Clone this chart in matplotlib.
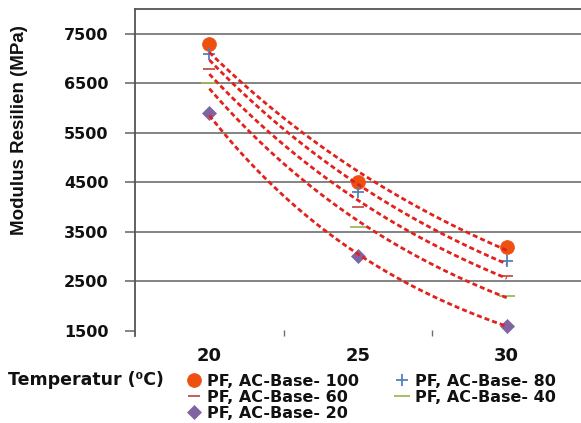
import matplotlib.pyplot as plt
import numpy as np

# Temperatur uji dan modulus resilien tiap campuran
suhu = [20, 25, 30]
ac_base_100 = [7300, 4500, 3200]
ac_base_80 = [7100, 4300, 2900]
ac_base_60 = [6800, 4000, 2600]
ac_base_40 = [6500, 3600, 2200]
ac_base_20 = [5900, 3000, 1600]

labels = ["PF, AC-Base- 100", "PF, AC-Base- 80", "PF, AC-Base- 60",
          "PF, AC-Base- 40", "PF, AC-Base- 20"]
series = [ac_base_100, ac_base_80, ac_base_60, ac_base_40, ac_base_20]
markers = ["o", "+", "_", "_", "D"]
colors = ["#EE5012", "#4F81BD", "#C0504D", "#9BBB59", "#8064A2"]
sizes = [10, 9, 9, 11, 7]

yticks = [1500, 2500, 3500, 4500, 5500, 6500, 7500]

fig = plt.figure(figsize=(5.81, 4.23), dpi=100)
ax = fig.add_axes([0.2324, 0.2057, 0.7676, 0.7725])

x = np.arange(len(suhu))
handles = []
for ys, lab, m, c, s in zip(series, labels, markers, colors, sizes):
    h, = ax.plot(x, ys, linestyle="none", marker=m, color=c, markersize=s,
                 markeredgewidth=1.3 if m in "+_" else 0.5, label=lab, zorder=3)
    handles.append(h)
    # garis tren eksponensial
    b, a = np.polyfit(suhu, np.log(ys), 1)
    xs = np.linspace(suhu[0], suhu[-1], 60)
    ax.plot((xs - suhu[0]) / 5, np.exp(a + b * xs), color="#E3211C",
            linestyle=(0, (1.8, 1.1)), linewidth=2.0, zorder=4)

ax.set_xlim(-0.5, 2.5)
ax.set_ylim(1390, 8000)
ax.set_yticks(yticks)
ax.set_yticklabels([str(v) for v in yticks], fontsize=11.5, fontweight="bold",
                   color="#111111")
ax.set_xticks(x)
ax.set_xticklabels([str(v) for v in suhu], fontsize=13, fontweight="bold",
                   color="#111111")
ax.set_xticks([0.5, 1.5], minor=True)

for v in yticks[1:]:
    ax.axhline(v, color="#6e6e6e", linewidth=1.2, zorder=1)

ax.tick_params(axis="y", direction="out", length=7, width=1.2,
               color="#6e6e6e", pad=12)
ax.tick_params(axis="x", which="major", length=0, pad=8)
ax.tick_params(axis="x", which="minor", direction="in", length=4,
               width=1.0, color="#6e6e6e")

for side in ["bottom", "right"]:
    ax.spines[side].set_visible(False)
for side in ["left", "top"]:
    ax.spines[side].set_color("#555555")
    ax.spines[side].set_linewidth(1.3)

fig.text(20 / 581, 1 - 130 / 423, "Modulus Resilien (MPa)", rotation=90,
         ha="center", va="center", fontsize=13.5, fontweight="bold",
         family=["Liberation Sans", "DejaVu Sans"], color="#111111")
fig.text(8 / 581, 1 - 380 / 423, "Temperatur (⁰C)", ha="left", va="center",
         fontsize=12.5, fontweight="bold", color="#111111")

order = [0, 2, 4, 1, 3]
leg = fig.legend([handles[i] for i in order], [labels[i] for i in order],
                 ncol=2, loc="upper left", bbox_to_anchor=(188 / 581, 1 - 374 / 423),
                 frameon=False, prop={"size": 11.5, "weight": "bold"},
                 handlelength=0.8, handletextpad=0.4, columnspacing=2.3,
                 labelspacing=0.05, borderaxespad=0, borderpad=0)
for t in leg.get_texts():
    t.set_color("#111111")

fig.savefig("out.png", dpi=100)
